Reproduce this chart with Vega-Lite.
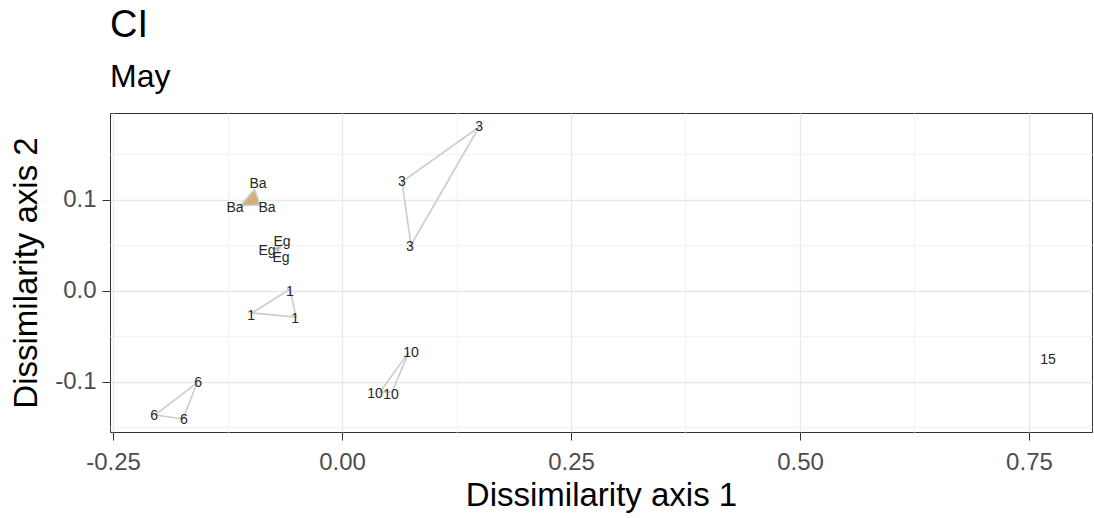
{
  "$schema": "https://vega.github.io/schema/vega-lite/v6.json",
  "autosize": "none",
  "padding": {"left": 110, "top": 113, "right": 2, "bottom": 86},
  "width": 982,
  "height": 319,
  "background": "white",
  "title": {
    "text": "CI",
    "subtitle": "May",
    "anchor": "start",
    "frame": "group",
    "font": "Liberation Sans",
    "fontSize": 38,
    "fontWeight": "normal",
    "color": "#000000",
    "subtitleFont": "Liberation Sans",
    "subtitleFontSize": 32,
    "subtitleColor": "#000000",
    "subtitlePadding": 17,
    "offset": 20
  },
  "config": {
    "view": {"stroke": "#333333", "strokeWidth": 1},
    "axis": {
      "domain": false,
      "labelFont": "Liberation Sans",
      "labelFontSize": 24,
      "labelColor": "#4d4d4d",
      "titleFont": "Liberation Sans",
      "titleFontSize": 33,
      "titleFontWeight": "normal",
      "titleColor": "#000000",
      "tickColor": "#333333",
      "tickWidth": 1,
      "tickSize": 8,
      "gridWidth": 1.3
    }
  },
  "datasets": {
    "hulls": [
      {"group": "3", "ord": 1, "x": 0.1496, "y": 0.1802},
      {"group": "3", "ord": 2, "x": 0.0655, "y": 0.1198},
      {"group": "3", "ord": 3, "x": 0.0753, "y": 0.0505},
      {"group": "Ba", "ord": 1, "x": -0.0955, "y": 0.1115},
      {"group": "Ba", "ord": 2, "x": -0.1112, "y": 0.0935},
      {"group": "Ba", "ord": 3, "x": -0.0895, "y": 0.0948},
      {"group": "Eg", "ord": 1, "x": -0.0732, "y": 0.0468},
      {"group": "Eg", "ord": 2, "x": -0.0655, "y": 0.0515},
      {"group": "Eg", "ord": 3, "x": -0.0699, "y": 0.043},
      {"group": "1", "ord": 1, "x": -0.0568, "y": 0.0022},
      {"group": "1", "ord": 2, "x": -0.0983, "y": -0.0242},
      {"group": "1", "ord": 3, "x": -0.0502, "y": -0.0286},
      {"group": "6", "ord": 1, "x": -0.1583, "y": -0.1011},
      {"group": "6", "ord": 2, "x": -0.2041, "y": -0.1363},
      {"group": "6", "ord": 3, "x": -0.1736, "y": -0.1407},
      {"group": "10", "ord": 1, "x": 0.0731, "y": -0.067},
      {"group": "10", "ord": 2, "x": 0.0415, "y": -0.111},
      {"group": "10", "ord": 3, "x": 0.0546, "y": -0.111}
    ],
    "labels": [
      {"group": "3", "x": 0.1496, "y": 0.1802},
      {"group": "3", "x": 0.0655, "y": 0.1198},
      {"group": "3", "x": 0.0742, "y": 0.0484},
      {"group": "Ba", "x": -0.0917, "y": 0.1176},
      {"group": "Ba", "x": -0.1168, "y": 0.0912},
      {"group": "Ba", "x": -0.0819, "y": 0.0912},
      {"group": "Eg", "x": -0.0655, "y": 0.0538},
      {"group": "Eg", "x": -0.0819, "y": 0.044},
      {"group": "Eg", "x": -0.0666, "y": 0.0363},
      {"group": "1", "x": -0.0568, "y": -0.0011},
      {"group": "1", "x": -0.0993, "y": -0.0275},
      {"group": "1", "x": -0.0513, "y": -0.0308},
      {"group": "6", "x": -0.1572, "y": -0.1011},
      {"group": "6", "x": -0.2052, "y": -0.1374},
      {"group": "6", "x": -0.1725, "y": -0.1418},
      {"group": "10", "x": 0.0753, "y": -0.0681},
      {"group": "10", "x": 0.036, "y": -0.1132},
      {"group": "10", "x": 0.0535, "y": -0.1143},
      {"group": "15", "x": 0.7707, "y": -0.0758}
    ]
  },
  "encoding": {
    "x": {
      "field": "x",
      "type": "quantitative",
      "title": "Dissimilarity axis 1",
      "scale": {"domain": [-0.2533, 0.8188], "nice": false, "zero": false},
      "axis": {
        "values": [-0.25, -0.125, 0, 0.125, 0.25, 0.375, 0.5, 0.625, 0.75],
        "labelExpr": "abs(datum.value*4 - round(datum.value*4)) < 0.001 ? replace(format(datum.value, '.2f'), '\u2212', '-') : ''",
        "labelPadding": 10,
        "titlePadding": 5,
        "gridColor": {
          "condition": {"test": "abs(datum.value*4 - round(datum.value*4)) < 0.001", "value": "#e8e8e8"},
          "value": "#f3f3f3"
        },
        "tickOpacity": {
          "condition": {"test": "abs(datum.value*4 - round(datum.value*4)) < 0.001", "value": 1},
          "value": 0
        }
      }
    },
    "y": {
      "field": "y",
      "type": "quantitative",
      "title": "Dissimilarity axis 2",
      "scale": {"domain": [-0.155, 0.1956], "nice": false, "zero": false},
      "axis": {
        "values": [-0.15, -0.1, -0.05, 0, 0.05, 0.1, 0.15],
        "labelExpr": "abs(datum.value*10 - round(datum.value*10)) < 0.001 ? replace(format(datum.value, '.1f'), '\u2212', '-') : ''",
        "labelPadding": 6,
        "titlePadding": 11,
        "gridColor": {
          "condition": {"test": "abs(datum.value*10 - round(datum.value*10)) < 0.001", "value": "#e8e8e8"},
          "value": "#f3f3f3"
        },
        "tickOpacity": {
          "condition": {"test": "abs(datum.value*10 - round(datum.value*10)) < 0.001", "value": 1},
          "value": 0
        }
      }
    }
  },
  "layer": [
    {
      "data": {"name": "hulls"},
      "transform": [{"filter": "datum.group === 'Ba' || datum.group === 'Eg'"}],
      "mark": {"type": "line", "interpolate": "linear-closed", "filled": true, "strokeOpacity": 0, "fillOpacity": 0.85},
      "encoding": {
        "detail": {"field": "group"},
        "order": {"field": "ord"},
        "color": {
          "field": "group",
          "type": "nominal",
          "legend": null,
          "scale": {"domain": ["Ba", "Eg"], "range": ["#c9a262", "#7fae52"]}
        }
      }
    },
    {
      "data": {"name": "hulls"},
      "mark": {"type": "line", "interpolate": "linear-closed", "stroke": "#cccccc", "strokeWidth": 1.6},
      "encoding": {
        "detail": {"field": "group"},
        "order": {"field": "ord"}
      }
    },
    {
      "data": {"name": "labels"},
      "mark": {"type": "text", "font": "Liberation Sans", "fontSize": 14, "color": "#262626", "align": "center", "baseline": "middle"},
      "encoding": {
        "text": {"field": "group"}
      }
    }
  ]
}
